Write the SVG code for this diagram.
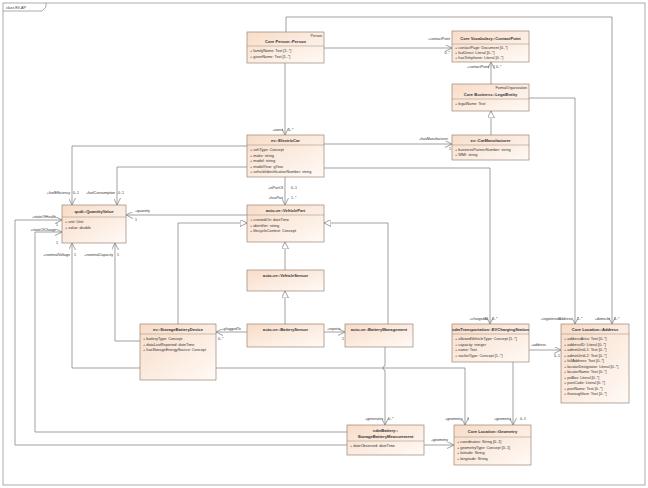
<svg xmlns="http://www.w3.org/2000/svg" width="648" height="488" viewBox="0 0 648 488">
<style>
text{font-family:"Liberation Sans",Arial,sans-serif;fill:#333}
.n{fill:url(#g);stroke:#9a8472;stroke-width:0.7}
.h{font-size:4.1px;font-weight:bold;text-anchor:middle}
.a{font-size:3.8px}
.s{font-size:3.6px;text-anchor:end}
.l{font-size:3.6px}
.sep{stroke:#9a8472;stroke-width:0.5}
.c{fill:none;stroke:#7a7a7a;stroke-width:0.7}
.as{marker-end:url(#open)}
.gs{marker-end:url(#tri)}
</style>
<defs>
<linearGradient id="g" x1="0" y1="0" x2="1" y2="1"><stop offset="0" stop-color="#f8dcc8"/><stop offset="1" stop-color="#fffaf6"/></linearGradient>
<marker id="open" viewBox="0 0 10 10" refX="10" refY="5" markerUnits="userSpaceOnUse" markerWidth="7" markerHeight="7" orient="auto"><path d="M0,0L10,5L0,10" fill="none" stroke="#7a7a7a" stroke-width="1"/></marker>
<marker id="tri" viewBox="0 0 10 10" refX="10" refY="5" markerUnits="userSpaceOnUse" markerWidth="7" markerHeight="7" orient="auto"><path d="M0,0L10,5L0,10Z" fill="#fff" stroke="#7a7a7a" stroke-width="1"/></marker>
</defs>
<rect x="0" y="0" width="648" height="488" fill="#fff"/>
<rect x="3" y="3" width="642" height="482" fill="none" stroke="#888" stroke-width="0.7"/>
<path d="M3,11H42L46,7V3" fill="none" stroke="#888" stroke-width="0.7"/>
<text x="6" y="9" class="l">class EV-AP</text>

<g id="connectors">
<path class="c as" d="M286,32V17H612V324"/>
<path class="c as" d="M324,48H452"/>
<path class="c as" d="M285,63V135"/>
<path class="c as" d="M491,84V62"/>
<path class="c gs" d="M491,135V111"/>
<path class="c as" d="M529,98H575V324"/>
<path class="c as" d="M324,144H452"/>
<path class="c as" d="M324,168H490V324"/>
<path class="c" d="M285,177V205" marker-start="url(#open)" marker-end="url(#open)"/>
<path class="c as" d="M247,146H72V205"/>
<path class="c as" d="M247,167H117V205"/>
<path class="c as" d="M247,215H126"/>
<path class="c gs" d="M178,324V223H247"/>
<path class="c gs" d="M388,324V223H324"/>
<path class="c gs" d="M285,270V242"/>
<path class="c gs" d="M285,324V291"/>
<path class="c as" d="M247,332H216"/>
<path class="c as" d="M324,332H345"/>
<path class="c as" d="M140,341H115V243"/>
<path class="c as" d="M140,368H72V243"/>
<path class="c as" d="M347,445H15V220H62"/>
<path class="c as" d="M347,432H35V232H62"/>
<path class="c as" d="M385,347V366a2,2 0 0 0 0,4V425"/>
<path class="c as" d="M216,368H465V425"/>
<path class="c as" d="M513,362V425"/>
<path class="c as" d="M529,350H561"/>
<path class="c as" d="M424,445H454"/>
</g>
<g id="labels">
<text x="450" y="40" class="s">+contactPoint</text><text x="450" y="54" class="s">0..*</text>
<text x="283" y="131" class="s">+owns</text><text x="288" y="131" class="l">0..*</text>
<text x="489" y="68" class="s">+contactPoint</text><text x="493" y="68" class="l">1</text><text x="496" y="68" class="l">0..*</text>
<text x="572" y="320" class="s">+registeredAddress</text><text x="577" y="320" class="l">1..*</text>
<text x="610" y="320" class="s">+domicile</text><text x="614" y="320" class="l">0..*</text>
<text x="448" y="140" class="s">+hasManufacturer</text><text x="449" y="150" class="l">1</text>
<text x="488" y="320" class="s">+chargedAt</text><text x="492" y="320" class="l">0..*</text>
<text x="283" y="189" class="s">+isPartOf</text><text x="291" y="189" class="l">0..1</text>
<text x="283" y="199" class="s">+hasPart</text><text x="291" y="199" class="l">1..*</text>
<text x="70" y="194" class="s">+fuelEfficiency</text><text x="73" y="194" class="l">0..1</text>
<text x="115" y="194" class="s">+fuelConsumption</text><text x="118" y="194" class="l">0..1</text>
<text x="135" y="212" class="l">+quantity</text><text x="135" y="221" class="l">1</text>
<text x="56" y="218" class="s">+stateOfHealth</text><text x="56" y="226" class="l">1</text>
<text x="56" y="231" class="s">+stateOfCharge</text><text x="56" y="244" class="l">1</text>
<text x="70" y="256" class="s">+nominalVoltage</text><text x="74" y="256" class="l">1</text>
<text x="113" y="256" class="s">+nominalCapacity</text><text x="117" y="256" class="l">1</text>
<text x="222" y="330" class="l">+pluggedTo</text><text x="218" y="340" class="l">0..*</text>
<text x="327" y="330" class="l">+reports</text><text x="342" y="340" class="l">1</text>
<text x="383" y="420" class="s">+generates</text><text x="388" y="420" class="l">0..*</text>
<text x="462" y="420" class="s">+geometry</text><text x="467" y="420" class="l">1</text>
<text x="511" y="420" class="s">+geometry</text><text x="520" y="420" class="l">0..1</text>
<text x="531" y="346" class="l">+address</text><text x="554" y="357" class="l">0..1</text>
<text x="431" y="441" class="l">+geometry</text>
</g>

<g id="Person"><rect class="n" x="247" y="32" width="77" height="31"/><text x="322" y="37" class="s">Person</text><text x="285.5" y="43" class="h">Core Person::Person</text><line class="sep" x1="247" y1="46" x2="324" y2="46"/><text x="250" y="52" class="a">+   familyName: Text [1..*]</text><text x="250" y="57.5" class="a">+   givenName: Text [1..*]</text></g>
<g id="ContactPoint"><rect class="n" x="452" y="31" width="77" height="31"/><text x="490.5" y="40" class="h">Core Vocabulary::ContactPoint</text><line class="sep" x1="452" y1="44" x2="529" y2="44"/><text x="455" y="49" class="a">+   contactPage: Document [0..*]</text><text x="455" y="54" class="a">+   faxDirect: Literal [0..*]</text><text x="455" y="59" class="a">+   hasTelephone: Literal [0..*]</text></g>
<g id="LegalEntity"><rect class="n" x="452" y="84" width="77" height="27"/><text x="527" y="89" class="s">FormalOrganization</text><text x="490.5" y="96" class="h">Core Business::LegalEntity</text><line class="sep" x1="452" y1="99" x2="529" y2="99"/><text x="455" y="105" class="a">+   legalName: Text</text></g>
<g id="CarManufacturer"><rect class="n" x="452" y="135" width="77" height="25"/><text x="490.5" y="142" class="h">ev::CarManufacturer</text><line class="sep" x1="452" y1="145" x2="529" y2="145"/><text x="455" y="151" class="a">+   businessPartnerNumber: string</text><text x="455" y="156" class="a">+   WMI: string</text></g>
<g id="ElectricCar"><rect class="n" x="247" y="135" width="77" height="42"/><text x="285.5" y="142" class="h">ev::ElectricCar</text><line class="sep" x1="247" y1="145" x2="324" y2="145"/><text x="250" y="151" class="a">+   vehType: Concept</text><text x="250" y="156.5" class="a">+   make: string</text><text x="250" y="162" class="a">+   model: string</text><text x="250" y="167.5" class="a">+   modelYear: gYear</text><text x="250" y="173" class="a">+   vehicleIdentificationNumber: string</text></g>
<g id="QuantityValue"><rect class="n" x="62" y="205" width="64" height="38"/><text x="94" y="213" class="h">qudt::QuantityValue</text><line class="sep" x1="62" y1="217" x2="126" y2="217"/><text x="65" y="223" class="a">+   unit: Unit</text><text x="65" y="228.5" class="a">+   value: double</text></g>
<g id="VehiclePart"><rect class="n" x="247" y="205" width="77" height="37"/><text x="285.5" y="212" class="h">auto-ve::VehiclePart</text><line class="sep" x1="247" y1="215" x2="324" y2="215"/><text x="250" y="221" class="a">+   createdOn: dateTime</text><text x="250" y="226.5" class="a">+   identifier: string</text><text x="250" y="232" class="a">+   lifecycleContext: Concept</text></g>
<g id="VehicleSensor"><rect class="n" x="247" y="270" width="77" height="21"/><text x="285.5" y="277" class="h">auto-ve::VehicleSensor</text></g>
<g id="BatterySensor"><rect class="n" x="247" y="324" width="77" height="23"/><text x="285.5" y="331" class="h">auto-ve::BatterySensor</text></g>
<g id="StorageBatteryDevice"><rect class="n" x="140" y="324" width="76" height="56"/><text x="178" y="331" class="h">ev::StorageBatteryDevice</text><line class="sep" x1="140" y1="334" x2="216" y2="334"/><text x="143" y="340" class="a">+   batteryType: Concept</text><text x="143" y="345.5" class="a">+   dataLastReported: dateTime</text><text x="143" y="351" class="a">+   hasStorageEnergySource: Concept</text></g>
<g id="BatteryManagement"><rect class="n" x="345" y="324" width="68" height="23"/><text x="379" y="331" class="h">auto-ve::BatteryManagement</text></g>
<g id="EVChargingStation"><rect class="n" x="452" y="324" width="77" height="38"/><text x="490.5" y="331" class="h">sdmTransportation::EVChargingStation</text><line class="sep" x1="452" y1="334" x2="529" y2="334"/><text x="455" y="340" class="a">+   allowedVehicleType: Concept [1..*]</text><text x="455" y="345.5" class="a">+   capacity: integer</text><text x="455" y="351" class="a">+   name: Text</text><text x="455" y="356.5" class="a">+   socketType: Concept [1..*]</text></g>
<g id="Address"><rect class="n" x="561" y="324" width="68" height="79"/><text x="595" y="331" class="h">Core Location::Address</text><line class="sep" x1="561" y1="334" x2="629" y2="334"/>
<text x="564" y="340" class="a">+   addressArea: Text [0..*]</text><text x="564" y="345.5" class="a">+   addressID: Literal [0..*]</text><text x="564" y="351" class="a">+   adminUnitL1: Text [0..*]</text><text x="564" y="356.5" class="a">+   adminUnitL2: Text [0..*]</text><text x="564" y="362" class="a">+   fullAddress: Text [0..*]</text><text x="564" y="367.5" class="a">+   locatorDesignator: Literal [0..*]</text><text x="564" y="373" class="a">+   locatorName: Text [0..*]</text><text x="564" y="378.5" class="a">+   poBox: Literal [0..*]</text><text x="564" y="384" class="a">+   postCode: Literal [0..*]</text><text x="564" y="389.5" class="a">+   postName: Text [0..*]</text><text x="564" y="395" class="a">+   thoroughfare: Text [0..*]</text></g>
<g id="StorageBatteryMeasurement"><rect class="n" x="347" y="425" width="77" height="30"/><text x="385.5" y="432" class="h">sdmBattery::</text><text x="385.5" y="438" class="h">StorageBatteryMeasurement</text><line class="sep" x1="347" y1="441" x2="424" y2="441"/><text x="350" y="447" class="a">+   dateObserved: dateTime</text></g>
<g id="Geometry"><rect class="n" x="454" y="425" width="77" height="40"/><text x="492.5" y="433" class="h">Core Location::Geometry</text><line class="sep" x1="454" y1="437" x2="531" y2="437"/><text x="457" y="443" class="a">+   coordinates: String [0..1]</text><text x="457" y="448.5" class="a">+   geometryType: Concept [0..1]</text><text x="457" y="454" class="a">+   latitude: String</text><text x="457" y="459.5" class="a">+   longitude: String</text></g>
</svg>
